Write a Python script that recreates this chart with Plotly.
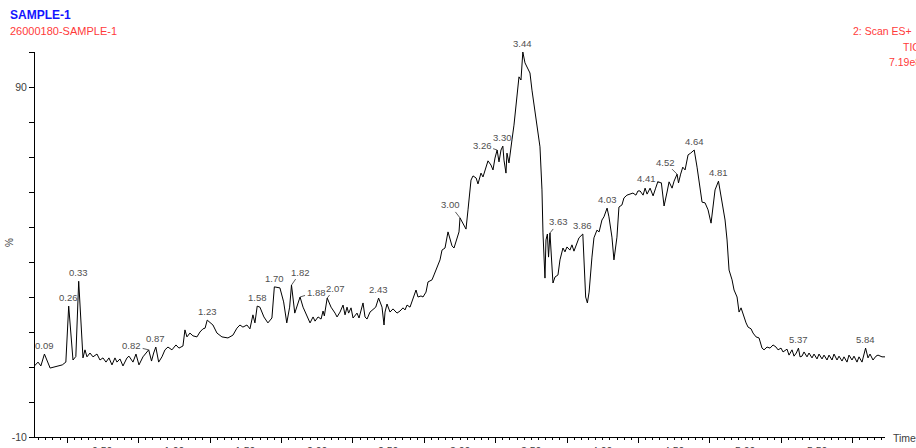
import numpy as np
import plotly.graph_objects as go

# Total ion chromatogram, time (min) vs relative intensity (%)
time = [
    0.020, 0.045, 0.065, 0.090, 0.130, 0.160, 0.180, 0.215, 0.240, 0.260,
    0.290, 0.310, 0.330, 0.360, 0.374, 0.388, 0.409, 0.430, 0.458, 0.479,
    0.500, 0.521, 0.542, 0.563, 0.584, 0.598, 0.619, 0.640, 0.668, 0.682,
    0.710, 0.731, 0.752, 0.780, 0.820, 0.840, 0.855, 0.870, 0.890, 0.913,
    0.934, 0.955, 0.983, 1.011, 1.032, 1.060, 1.074, 1.088, 1.109, 1.130,
    1.158, 1.179, 1.200, 1.215, 1.230, 1.270, 1.298, 1.333, 1.375, 1.410,
    1.438, 1.459, 1.480, 1.508, 1.529, 1.550, 1.564, 1.580, 1.599, 1.627,
    1.655, 1.683, 1.700, 1.739, 1.765, 1.787, 1.807, 1.820, 1.843, 1.866,
    1.880, 1.901, 1.929, 1.950, 1.971, 1.985, 2.006, 2.027, 2.041, 2.050,
    2.070, 2.097, 2.125, 2.139, 2.160, 2.181, 2.195, 2.209, 2.220, 2.237,
    2.251, 2.279, 2.293, 2.321, 2.335, 2.349, 2.370, 2.391, 2.410, 2.430,
    2.454, 2.468, 2.475, 2.489, 2.510, 2.531, 2.559, 2.580, 2.601, 2.615,
    2.629, 2.650, 2.671, 2.692, 2.706, 2.727, 2.741, 2.762, 2.776, 2.804,
    2.818, 2.839, 2.860, 2.874, 2.895, 2.916, 2.944, 2.958, 2.979, 2.993,
    3.000, 3.021, 3.042, 3.056, 3.077, 3.091, 3.113, 3.126, 3.147, 3.161,
    3.182, 3.196, 3.217, 3.231, 3.245, 3.260, 3.273, 3.287, 3.300, 3.308,
    3.322, 3.329, 3.343, 3.357, 3.364, 3.378, 3.399, 3.413, 3.427, 3.440,
    3.455, 3.469, 3.490, 3.504, 3.525, 3.539, 3.560, 3.574, 3.581, 3.595,
    3.602, 3.612, 3.620, 3.630, 3.651, 3.665, 3.686, 3.700, 3.721, 3.735,
    3.749, 3.770, 3.784, 3.798, 3.819, 3.833, 3.860, 3.870, 3.880, 3.892,
    3.904, 3.924, 3.938, 3.959, 3.974, 3.994, 4.008, 4.030, 4.043, 4.064,
    4.078, 4.099, 4.113, 4.134, 4.148, 4.169, 4.190, 4.211, 4.232, 4.246,
    4.261, 4.282, 4.296, 4.310, 4.331, 4.352, 4.370, 4.385, 4.410, 4.429,
    4.450, 4.464, 4.485, 4.499, 4.520, 4.530, 4.545, 4.560, 4.576, 4.597,
    4.615, 4.640, 4.660, 4.674, 4.695, 4.716, 4.737, 4.758, 4.772, 4.786,
    4.810, 4.821, 4.842, 4.856, 4.870, 4.884, 4.905, 4.919, 4.940, 4.954,
    4.968, 4.982, 5.003, 5.017, 5.038, 5.052, 5.073, 5.094, 5.115, 5.129,
    5.150, 5.171, 5.192, 5.213, 5.227, 5.248, 5.262, 5.290, 5.304, 5.325,
    5.339, 5.355, 5.370, 5.381, 5.395, 5.409, 5.430, 5.444, 5.465, 5.479,
    5.500, 5.514, 5.535, 5.549, 5.570, 5.584, 5.605, 5.619, 5.640, 5.654,
    5.675, 5.689, 5.710, 5.724, 5.745, 5.759, 5.780, 5.794, 5.815, 5.840,
    5.857, 5.871, 5.892, 5.913, 5.927, 5.955, 5.983,
]
intensity = [
    10.3, 11.4, 10.3, 13.7, 9.7, 10.0, 10.3, 10.6, 11.4, 27.4,
    12.0, 13.0, 34.5, 12.6, 14.9, 12.9, 14.0, 12.9, 13.7, 12.0,
    12.6, 11.4, 12.6, 10.6, 12.6, 11.4, 12.3, 10.3, 12.6, 13.1,
    11.4, 13.7, 10.6, 12.9, 14.9, 11.7, 14.0, 15.7, 11.4, 12.9,
    14.9, 15.7, 14.9, 16.3, 15.4, 16.0, 20.6, 18.6, 19.7, 18.9,
    18.6, 20.0, 20.9, 21.1, 23.4, 22.0, 19.7, 18.6, 18.3, 19.1,
    21.1, 22.0, 21.4, 22.0, 20.9, 24.9, 22.6, 27.4, 27.1, 24.3,
    22.6, 24.0, 32.9, 32.6, 28.6, 22.6, 27.1, 33.4, 25.4, 28.6,
    30.0, 27.1, 24.3, 22.6, 24.3, 23.1, 24.3, 23.7, 26.0, 24.6,
    29.7, 27.1, 25.4, 24.3, 25.7, 27.7, 24.9, 27.1, 25.4, 26.9,
    24.0, 25.4, 24.0, 28.3, 24.3, 23.7, 25.7, 26.3, 27.1, 29.7,
    27.1, 22.0, 25.7, 28.0, 25.7, 26.6, 25.4, 26.0, 26.9, 26.3,
    27.7, 27.1, 29.7, 32.0, 30.0, 30.3, 30.0, 31.4, 34.3, 34.9,
    36.3, 38.3, 40.6, 43.4, 44.0, 48.6, 44.6, 44.0, 46.6, 48.6,
    52.6, 51.1, 49.4, 54.9, 63.4, 64.6, 64.0, 62.3, 65.4, 64.3,
    66.9, 68.9, 67.7, 66.3, 69.7, 72.0, 68.6, 72.0, 73.1, 69.1,
    65.4, 71.1, 68.3, 72.0, 74.9, 79.1, 86.6, 92.9, 92.0, 100.0,
    96.9, 95.7, 94.0, 89.1, 83.4, 78.6, 72.9, 60.6, 48.3, 35.4,
    46.3, 48.0, 41.4, 48.3, 34.0, 35.7, 36.3, 40.6, 44.0, 42.9,
    44.3, 43.4, 44.9, 43.1, 45.4, 46.9, 48.0, 36.9, 30.0, 28.3,
    31.4, 41.4, 46.9, 49.1, 48.6, 52.0, 52.9, 55.4, 52.9, 47.1,
    40.6, 47.1, 55.7, 56.3, 58.3, 59.1, 59.4, 59.7, 59.1, 60.3,
    60.3, 59.1, 61.1, 59.4, 61.1, 58.9, 61.1, 62.9, 62.6, 56.0,
    60.0, 62.9, 61.1, 63.1, 65.1, 62.6, 65.1, 67.1, 66.3, 70.6,
    71.1, 72.0, 67.1, 62.6, 57.1, 56.9, 54.9, 51.1, 56.9, 60.6,
    63.1, 60.6, 54.9, 52.0, 46.3, 37.7, 34.9, 32.0, 30.0, 25.7,
    26.9, 24.9, 22.6, 21.4, 20.9, 19.7, 18.6, 18.3, 15.4, 14.9,
    15.7, 15.4, 16.3, 15.7, 14.9, 15.4, 14.3, 15.1, 13.4, 14.9,
    13.1, 14.0, 15.4, 12.9, 13.1, 14.3, 12.9, 14.0, 12.6, 13.7,
    12.3, 13.7, 12.3, 13.4, 12.0, 13.4, 12.0, 13.7, 12.0, 13.1,
    11.7, 12.9, 11.4, 13.4, 12.0, 13.1, 11.4, 12.9, 11.4, 15.4,
    12.6, 13.7, 12.0, 13.1, 13.4, 12.9, 12.9,
]

# Labelled peak apex times (min)
peak_times = [0.09, 0.26, 0.33, 0.82, 0.87, 1.23, 1.58, 1.70, 1.82, 1.88,
              2.07, 2.43, 3.00, 3.26, 3.30, 3.44, 3.63, 3.86, 4.03, 4.41,
              4.52, 4.64, 4.81, 5.37, 5.84]
# Label offsets (px) for labels placed with a short leader line
leader_offsets = {0.82: (-17, -4), 1.82: (9, -13), 1.88: (16, -5),
                  2.07: (8, -10), 3.00: (-10, -13), 3.26: (-15, -5),
                  3.63: (9, -11), 4.41: (-15, -4), 4.52: (-12, -12)}

y_ticks = list(range(-10, 101, 10))
y_ticktext = [str(v) if v in (-10, 90) else "" for v in y_ticks]
x_labels = [0.5, 1.0, 1.5, 2.0, 2.5, 3.0, 3.5, 4.0, 4.5, 5.0, 5.5]
x_long_ticks = [0.25, 0.75, 1.25, 1.75, 2.25, 2.75, 3.25, 3.75, 4.25, 4.75,
                5.25, 5.75]

FONT = "Liberation Sans, Arial, sans-serif"
label_color = "#505050"
axis_text = "#404040"
red = "#ff3a3a"

fig = go.Figure()
fig.add_trace(go.Scatter(x=time, y=intensity, mode="lines",
                         line=dict(color="black", width=1),
                         hoverinfo="x+y", showlegend=False))

annotations = []
for pt in peak_times:
    val = float(np.interp(pt, time, intensity))
    txt = f"{pt:.2f}"
    if pt in leader_offsets:
        ax, ay = leader_offsets[pt]
        annotations.append(dict(x=pt, y=val, text=txt, showarrow=True,
                                arrowhead=0, arrowwidth=0.8,
                                arrowcolor="#303030", ax=ax, ay=ay,
                                standoff=0, startstandoff=0,
                                font=dict(family=FONT, size=9.5, color=label_color)))
    else:
        annotations.append(dict(x=pt, y=val, text=txt, showarrow=False,
                                yanchor="bottom", yshift=1,
                                font=dict(family=FONT, size=9.5, color=label_color)))

# Time-axis labels sit just under the axis line
for xv in x_labels:
    annotations.append(dict(x=xv, xref="x", y=-0.016, yref="paper",
                            yanchor="top", xanchor="center", showarrow=False,
                            text=f"{xv:.2f}",
                            font=dict(family=FONT, size=10.5, color=axis_text)))

annotations += [
    dict(xref="paper", yref="paper", x=-0.0318, y=1.096, xanchor="left",
         yanchor="middle", showarrow=False, text="<b>SAMPLE-1</b>",
         font=dict(family=FONT, size=12, color="#1414ff")),
    dict(xref="paper", yref="paper", x=-0.0318, y=1.0545, xanchor="left",
         yanchor="middle", showarrow=False, text="26000180-SAMPLE-1",
         font=dict(family=FONT, size=11, color=red)),
    dict(xref="paper", yref="paper", x=1.034, y=1.0545, xanchor="right",
         yanchor="middle", showarrow=False, text="2: Scan ES+",
         font=dict(family=FONT, size=10.5, color=red)),
    dict(xref="paper", yref="paper", x=1.0435, y=1.013, xanchor="right",
         yanchor="middle", showarrow=False, text="TIC",
         font=dict(family=FONT, size=10.5, color=red)),
    dict(xref="paper", yref="paper", x=1.0447, y=0.974, xanchor="right",
         yanchor="middle", showarrow=False, text="7.19e8",
         font=dict(family=FONT, size=10.5, color=red)),
    dict(xref="paper", yref="paper", x=-0.0294, y=0.504, xanchor="center",
         yanchor="middle", showarrow=False, text="%", textangle=-90,
         font=dict(family=FONT, size=10, color=axis_text)),
    dict(xref="paper", yref="paper", x=1.007, y=-0.003, xanchor="left",
         yanchor="middle", showarrow=False, text="Time",
         font=dict(family=FONT, size=10.5, color=axis_text)),
]

fig.update_layout(
    width=916, height=448,
    margin=dict(l=35, r=31, t=52, b=11, pad=0, autoexpand=False),
    paper_bgcolor="white", plot_bgcolor="white",
    font=dict(family=FONT, size=10.5, color=axis_text),
    annotations=annotations,
    xaxis=dict(range=[0.024, 5.976], showgrid=False, zeroline=False,
               automargin=False,
               showline=True, linecolor="black", linewidth=1,
               tickvals=x_long_ticks, showticklabels=False,
               ticks="outside", ticklen=5, tickcolor="black", tickwidth=1,
               minor=dict(dtick=0.05, tick0=0, ticks="outside", ticklen=2,
                          tickcolor="black", tickwidth=1, showgrid=False)),
    yaxis=dict(range=[-10, 100], showgrid=False, zeroline=False,
               automargin=False,
               showline=True, linecolor="black", linewidth=1,
               tickvals=y_ticks, ticktext=y_ticktext,
               ticks="outside", ticklen=5, tickcolor="black", tickwidth=1,
               tickfont=dict(family=FONT, size=10.5, color=axis_text)),
)

fig.write_html("out.html")
